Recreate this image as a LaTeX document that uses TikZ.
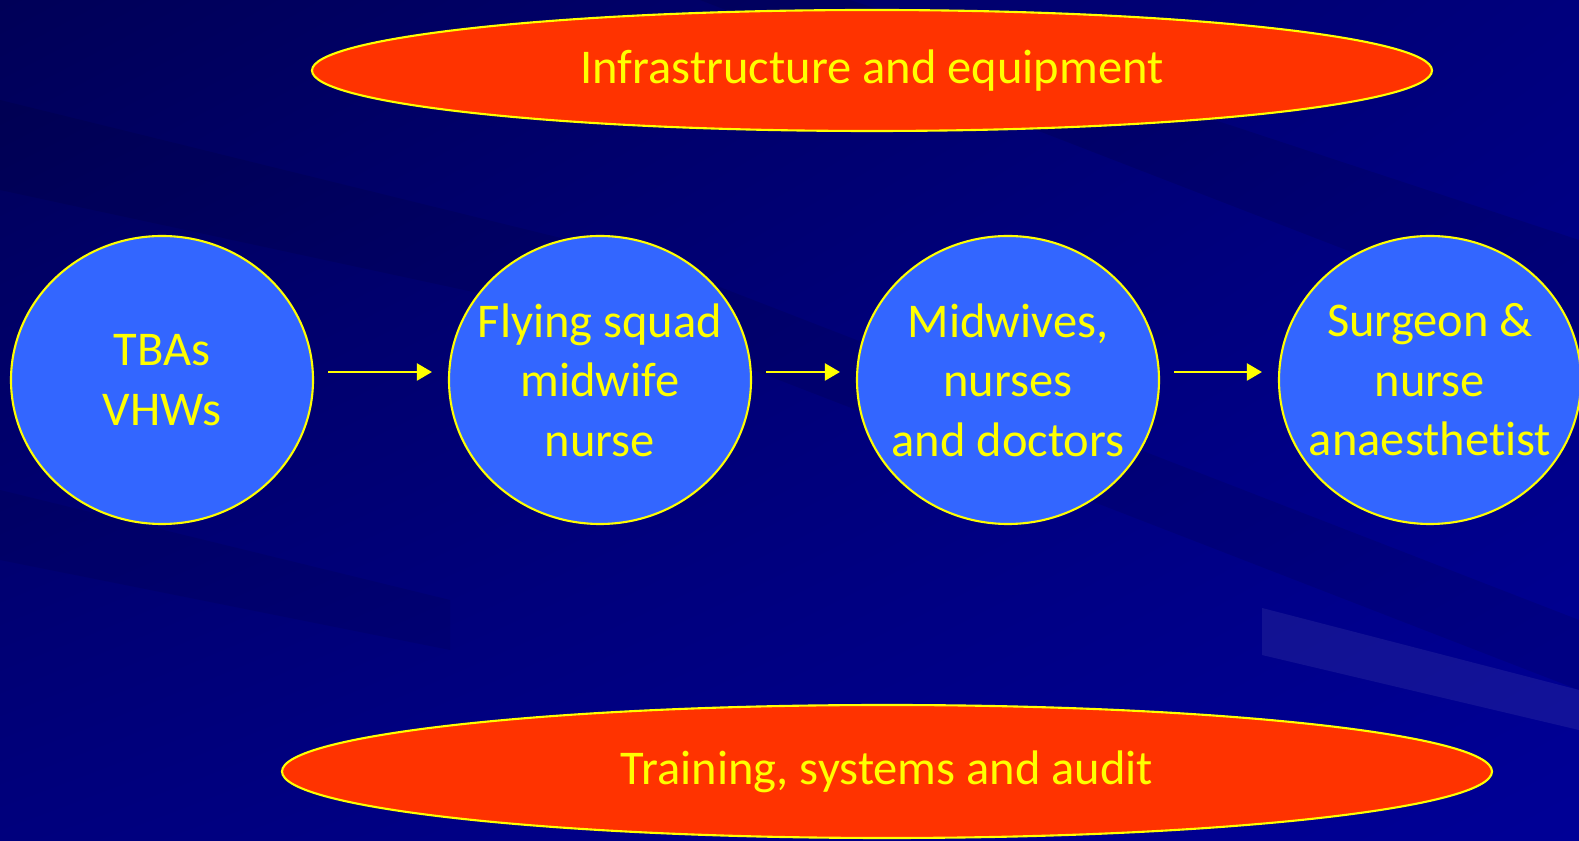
\documentclass[tikz,border=0pt]{standalone}
\usepackage{fontspec}
\setmainfont[Ligatures=NoCommon]{Carlito}
\usetikzlibrary{arrows.meta,positioning,shapes.geometric,calc,shadings}
\definecolor{navydark}{RGB}{0,0,88}
\definecolor{navymid}{RGB}{0,0,125}
\definecolor{navylight}{RGB}{0,0,150}
\definecolor{stafffill}{RGB}{51,102,255}
\definecolor{basefill}{RGB}{255,51,0}
\definecolor{txtyellow}{RGB}{255,255,0}
\newcommand{\slidefont}{\fontsize{13.8}{16.9}\selectfont}

\begin{document}
\begin{tikzpicture}[>={Triangle[length=0.15cm,width=0.17cm]},
   staff/.style={ellipse, draw=txtyellow, line width=0.6pt, fill=stafffill,
     minimum width=3.02cm, minimum height=2.88cm, inner xsep=-0.5cm, inner ysep=0pt,
     text=txtyellow, align=center, font=\slidefont},
   base/.style={ellipse, draw=txtyellow, line width=0.6pt, fill=basefill,
     inner sep=0pt, text=txtyellow, font=\slidefont},
   flow/.style={->, draw=txtyellow, fill=txtyellow, line width=0.6pt,
     shorten <=0.14cm, shorten >=0.16cm}]
  \useasboundingbox (0,0) rectangle (15.79,-8.41);
  % background with streaks
  \shade[upper left=navydark, upper right=navymid, lower left=navymid,
    lower right=navylight] (0,0) rectangle (15.79,-8.41);
  \fill[black, opacity=0.09] (0,-1.0) -- (6.5,-2.6) -- (15.79,-6.2) -- (15.79,-6.9) -- (6.5,-3.3) -- (0,-1.9) -- cycle;
  \fill[black, opacity=0.10] (8.5,0) -- (15.79,-2.4) -- (15.79,-3.4) -- (7.0,0) -- cycle;
  \fill[black, opacity=0.08] (0,-4.9) -- (4.5,-6.0) -- (4.5,-6.5) -- (0,-5.6) -- cycle;
  \fill[white, opacity=0.07] (12.62,-6.08) -- (15.79,-6.9) -- (15.79,-7.3) -- (12.62,-6.55) -- cycle;

  \node[base, minimum width=11.2cm, minimum height=1.21cm] (infra) at (8.72,-0.705) {Infrastructure and equipment};
  \node[base, minimum width=12.1cm, minimum height=1.33cm] (train) at (8.87,-7.715) {Training, systems and audit};

  \node[staff] (tba) at (1.62,-3.80) {TBAs\\VHWs};
  \node[staff] (squad) at (6.00,-3.80) {Flying squad\\midwife\\nurse};
  \node[staff] (midw) at (10.08,-3.80) {Midwives,\\nurses\\and doctors};
  \node[staff] (surg) at (14.30,-3.80) {Surgeon \&\\nurse\\anaesthetist};

  \draw[flow] ([yshift=0.08cm]tba.east) -- ([yshift=0.08cm]squad.west);
  \draw[flow] ([yshift=0.08cm]squad.east) -- ([yshift=0.08cm]midw.west);
  \draw[flow] ([yshift=0.08cm]midw.east) -- ([yshift=0.08cm]surg.west);
\end{tikzpicture}
\end{document}
